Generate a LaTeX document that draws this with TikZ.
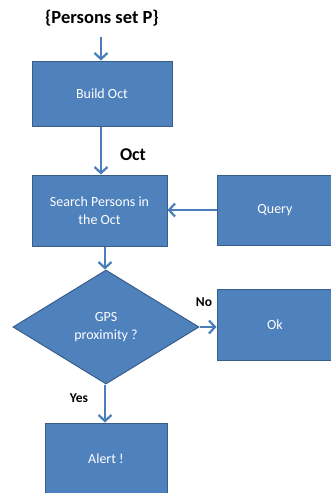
\documentclass[tikz,border=0pt]{standalone}
\usepackage{fontspec}
\setmainfont{Carlito}
\usetikzlibrary{arrows.meta,shapes.geometric}
\definecolor{boxfill}{HTML}{4F81BD}
\definecolor{boxline}{HTML}{385D8A}
\definecolor{arrowc}{HTML}{4A7EBB}
\tikzset{
  boxfont/.style={font=\fontsize{14}{17.5}\selectfont},
  procbox/.style={draw=boxline, fill=boxfill, line width=1pt, text=white, align=center, boxfont, inner sep=0pt},
  flow/.style={draw=arrowc, line width=2.6pt, -{Straight Barb[length=6pt,width=13pt,line width=2.2pt]}},
  lbl/.style={font=\bfseries\fontsize{18}{21}\selectfont, text=black, inner sep=0pt},
  smalllbl/.style={font=\bfseries\fontsize{13.5}{16}\selectfont, text=black, inner sep=0pt}
}
\begin{document}
\begin{tikzpicture}[x=1pt,y=-1pt]
\useasboundingbox (0,0) rectangle (330,493);
\node[lbl, font=\bfseries\fontsize{18.5}{21}\selectfont] (title) at (102,18) {\{Persons set P\}};
\node[procbox, minimum width=140pt, minimum height=65pt] (build) at (102,93.5) {Build Oct};
\node[procbox, minimum width=135pt, minimum height=71pt] (search) at (99.5,210.5) {Search Persons in\\the Oct};
\node[procbox, minimum width=116pt, minimum height=70pt] (query) at (275,210) {Query};
\node[diamond, draw=boxline, fill=boxfill, line width=1pt, text=white, align=center, boxfont, minimum width=186pt, minimum height=114pt, inner sep=0pt, aspect=1.63] (gps) at (106,327) {GPS\\proximity ?};
\node[procbox, minimum width=116pt, minimum height=71pt] (ok) at (275,324.5) {Ok};
\node[procbox, minimum width=122pt, minimum height=72pt] (alert) at (106,459) {Alert !};
\node[lbl] (oct) at (133,155) {Oct};
\node[smalllbl] (no) at (204,302) {No};
\node[smalllbl] (yes) at (79,398) {Yes};
\coordinate (tstart) at (101,37);
\draw[flow] (tstart) -- (build.north -| tstart);
\draw[flow] (build.south -| tstart) -- (search.north -| tstart);
\draw[flow] (query.west |- 0,210) -- (search.east |- 0,210);
\draw[flow] (search.south -| 105,0) -- (gps.north -| 105,0);
\draw[flow] (gps.east) -- (ok.west |- gps.east);
\draw[flow] (gps.south -| 105,0) -- (alert.north -| 105,0);
\end{tikzpicture}
\end{document}
